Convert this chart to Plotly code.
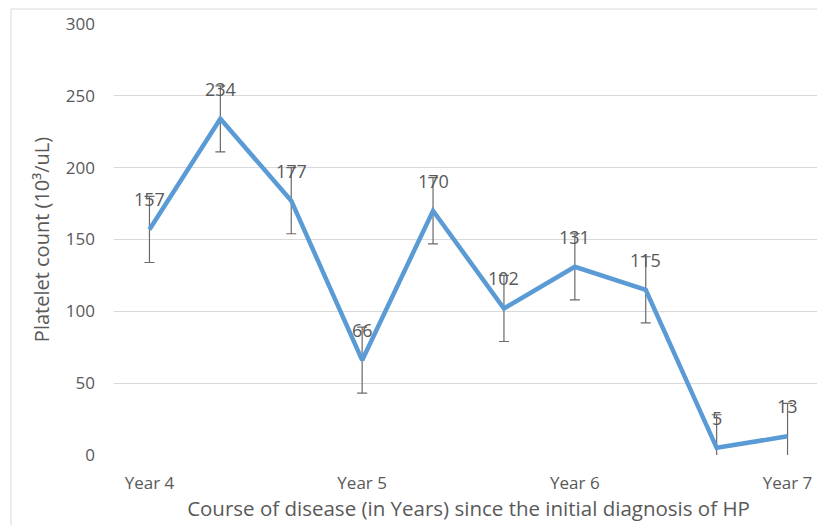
import plotly.graph_objects as go

x_pos = [0, 1, 2, 3, 4, 5, 6, 7, 8, 9]
platelets = [157, 234, 177, 66, 170, 102, 131, 115, 5, 13]
err = [23, 23, 23, 23, 23, 23, 23, 23, 23, 23]
tick_pos = [0, 3, 6, 9]
tick_labels = ["Year 4", "Year 5", "Year 6", "Year 7"]
y_ticks = [0, 50, 100, 150, 200, 250, 300]

FONT = "Open Sans, Noto Sans, sans-serif"
GREY = "#595959"

fig = go.Figure()
fig.add_trace(go.Scatter(
    x=x_pos, y=platelets, mode="lines",
    line=dict(color="#5B9BD5", width=4.5),
    error_y=dict(type="data", array=err, visible=True, color="#6a6a6a", thickness=1.2, width=5),
    showlegend=False, hoverinfo="skip",
))

for xv, yv in zip(x_pos, platelets):
    fig.add_annotation(x=xv, y=yv, text=str(yv), showarrow=False, yshift=30,
                       font=dict(family=FONT, size=18, color=GREY))

fig.add_shape(type="rect", xref="paper", yref="paper",
              x0=-0.1453, x1=1.02, y0=-0.3, y1=1.0348,
              line=dict(color="#d9d9d9", width=1), fillcolor="rgba(0,0,0,0)", layer="below")

fig.update_layout(
    width=815, height=517,
    margin=dict(l=106, r=0, t=16, b=70),
    plot_bgcolor="white", paper_bgcolor="white",
    font=dict(family=FONT, color=GREY),
    xaxis=dict(range=[-0.5, 9.5], tickvals=tick_pos, ticktext=tick_labels,
               showgrid=False, zeroline=False, showline=False, ticks="",
               tickfont=dict(size=17, color=GREY), ticklabelstandoff=16,
               title=dict(text="Course of disease (in Years) since the initial diagnosis of HP",
                          font=dict(size=20.5, color=GREY), standoff=6)),
    yaxis=dict(range=[0, 300], tickvals=y_ticks, showgrid=True, gridcolor="#d9d9d9", gridwidth=1,
               zeroline=False, showline=False, ticks="",
               tickfont=dict(size=17, color=GREY), ticklabelstandoff=18,
               title=dict(text="Platelet count (10³/uL)", font=dict(size=20, color=GREY), standoff=10)),
)

fig.write_html("out.html")
